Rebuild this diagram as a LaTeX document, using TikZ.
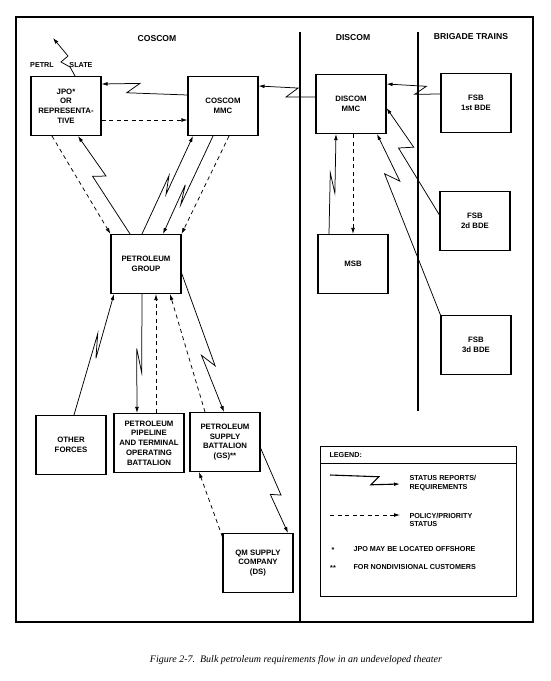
\documentclass[tikz,border=0pt]{standalone}
\usepackage{fontspec}
\setmainfont{Liberation Serif}
\setsansfont{Liberation Sans}
\usetikzlibrary{calc,arrows.meta}
\begin{document}
\begin{tikzpicture}[x=1pt,y=-1pt,
  box/.style={draw,line width=1.1pt,minimum width=70pt,minimum height=59pt,inner sep=1pt,align=center,font=\sffamily\bfseries\fontsize{7.8}{9.8}\selectfont},
  hd/.style={font=\sffamily\bfseries\fontsize{8.6}{10}\selectfont},
  sml/.style={font=\sffamily\bfseries\fontsize{7.2}{8.6}\selectfont},
  sig/.style={line width=0.75pt,-{Latex[length=6pt,width=3.8pt]}},
  pol/.style={line width=0.75pt,dash pattern=on 4pt off 3.5pt,-{Latex[length=6pt,width=3.8pt]}},
  zz/.style args={#1/#2/#3}{to path={-- ($(\tikztostart)!#1!(\tikztotarget)!#2!(\tikztotarget)!#3!90:(\tikztotarget)$) -- ($(\tikztostart)!#1!(\tikztotarget)!-#2!(\tikztotarget)!#3!-90:(\tikztotarget)$) -- (\tikztotarget)}},
]
\useasboundingbox (0,0) rectangle (550,681);
\fill[white] (0,0) rectangle (550,681);

% frame and dividers
\draw[line width=2.2pt] (16,17) rectangle (533,622);
\draw[line width=2pt] (300,32) -- (300,622);
\draw[line width=2pt] (418,32) -- (418,411);

% headings
\node[hd] (hcos) at (157,39) {COSCOM};
\node[hd] (hdis) at (353,38) {DISCOM};
\node[hd] (hbde) at (471,37) {BRIGADE TRAINS};

% boxes
\node[box] (jpo) at (66,106) {JPO*\\OR\\REPRESENTA-\\TIVE};
\node[box] (cmmc) at (223,106) {COSCOM\\MMC};
\node[box] (dmmc) at (351,104) {DISCOM\\MMC};
\node[box] (fsb1) at (476,103) {FSB\\1st BDE};
\node[box] (fsb2) at (475,221) {FSB\\2d BDE};
\node[box] (fsb3) at (476,345) {FSB\\3d BDE};
\node[box] (msb) at (353,264) {MSB};
\node[box] (pg) at (146,264) {PETROLEUM\\GROUP};
\node[box] (oth) at (71,445) {OTHER\\FORCES};
\node[box] (pptob) at (149,443) {PETROLEUM\\PIPELINE\\AND TERMINAL\\OPERATING\\BATTALION};
\node[box] (psb) at (225,442) {PETROLEUM\\SUPPLY\\BATTALION\\(GS)**};
\node[box] (qm) at (258,563) {QM SUPPLY\\COMPANY\\(DS)};

% petrol slate
\coordinate (slate) at (53,38);
\draw[sig] ([xshift=9pt]jpo.north) -- (70,67) -- (61,62) -- (68,56) -- (slate);
\node[sml] (lpetrl) at (42,65) {PETRL};
\node[sml] (lslate) at (81,65) {SLATE};

% horizontal connectors
\draw[sig] ([yshift=11pt]cmmc.west) to[zz=0.63/6pt/5.5pt] ([yshift=22pt]jpo.east);
\draw[pol] ([yshift=-14pt]jpo.east) -- ([yshift=-14pt]cmmc.west);
\draw[sig] ([yshift=7pt]dmmc.west) to[zz=0.41/5pt/5.5pt] ([yshift=20pt]cmmc.east);
\draw[sig] ([yshift=9pt]fsb1.west) to[zz=0.37/5pt/5pt] ([yshift=20pt]dmmc.east);

% COSCOM side diagonals
\draw[pol] ([xshift=-14pt]jpo.south) -- (pg.north west);
\draw[sig] ([xshift=-16pt]pg.north) to[zz=0.59/3pt/6pt] ([xshift=12pt]jpo.south);
\draw[sig] ([xshift=-4pt]pg.north) to[zz=0.5/9pt/3pt] ([xshift=-30pt]cmmc.south);
\draw[sig] ([xshift=-10pt]cmmc.south) to[zz=0.6/10pt/2.5pt] ([xshift=17pt]pg.north);
\draw[pol] ([xshift=6pt]cmmc.south) -- (pg.north east);

% DISCOM side
\draw[sig] ([xshift=-24pt]msb.north) to[zz=0.51/10pt/3pt] ([xshift=-15pt]dmmc.south);
\draw[pol] ([xshift=2pt]dmmc.south) -- (msb.north);
\draw[sig] ([yshift=6pt]fsb2.west) to[zz=0.63/3pt/7pt] ([yshift=-4pt]dmmc.east);
\draw[sig] (fsb3.north west) to[zz=0.76/6pt/6pt] ([xshift=26pt]dmmc.south);

% lower connectors
\draw[sig] ([xshift=3pt]oth.north) to[zz=0.57/12pt/3pt] ([xshift=-32pt]pg.south);
\draw[sig] ([xshift=-4pt]pg.south) to[zz=0.56/12pt/3pt] ([xshift=-12pt]pptob.north);
\draw[pol] ([xshift=7pt]pptob.north) -- ([xshift=10pt]pg.south);
\draw[pol] ([xshift=-20pt]psb.north) -- ([xshift=24pt]pg.south);
\draw[sig] ([yshift=-9pt]pg.east) to[zz=0.63/7pt/5pt] ([xshift=-1pt]psb.north);
\draw[sig] ([yshift=-6pt]psb.east) to[zz=0.55/2pt/5pt] ([xshift=30pt]qm.north);
\draw[pol] ([yshift=-4pt]qm.north west) -- ([xshift=-26pt]psb.south);

% legend
\node[draw,line width=1pt,minimum width=196pt,minimum height=150pt,inner sep=0pt] (leg) at (418,521) {};
\draw[line width=0.8pt] ([yshift=-18pt]leg.north west) -- ([yshift=-18pt]leg.north east);
\node[sml,anchor=west] (lgt) at (326,455) {LEGEND:};
\coordinate (ls1) at (330,475);
\coordinate (ls2) at (400,484);
\draw[sig,line width=1.1pt] (ls1) to[zz=0.64/3.5pt/4.5pt] (ls2);
\node[sml,anchor=west,align=left] (lst) at (406,483) {STATUS REPORTS/\\REQUIREMENTS};
\coordinate (lp1) at (330,515);
\coordinate (lp2) at (400,515);
\draw[pol] (lp1) -- (lp2);
\node[sml,anchor=west,align=left] (lpt) at (406,520) {POLICY/PRIORITY\\STATUS};
\node[sml] (la1) at (333,550) {*};
\node[sml,anchor=west] (lj) at (350,549) {JPO MAY BE LOCATED OFFSHORE};
\node[sml] (la2) at (333,568) {**};
\node[sml,anchor=west] (lf) at (350,567) {FOR NONDIVISIONAL CUSTOMERS};

% caption
\node[font=\itshape\fontsize{10}{12}\selectfont] (cap) at (296,660) {Figure 2-7.\ \ Bulk petroleum requirements flow in an undeveloped theater};
\end{tikzpicture}
\end{document}
